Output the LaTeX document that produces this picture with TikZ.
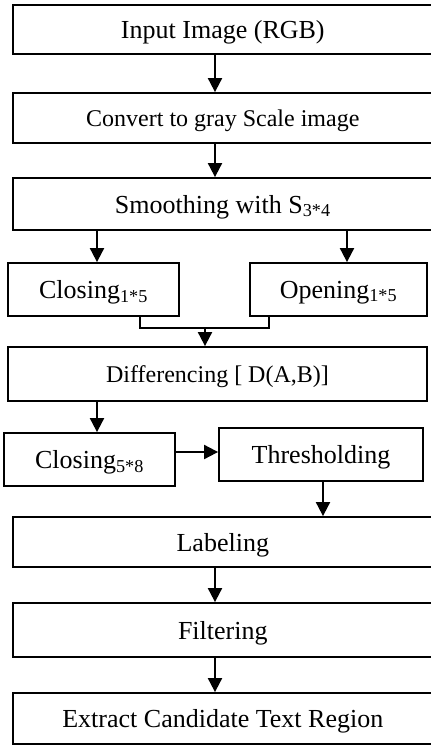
\documentclass[tikz,border=0pt]{standalone}
\usepackage{fontspec}
\setmainfont{Liberation Serif}
\usetikzlibrary{arrows.meta}
\begin{document}
\begin{tikzpicture}[x=1pt,y=-1pt,
  box/.style={draw=black,line width=1.8pt,inner sep=0pt,text depth=0pt,minimum width=#1,font=\fontsize{26}{30}\selectfont},
  smalltext/.style={font=\fontsize{24}{28}\selectfont},
  conn/.style={line width=1.9pt},
  arr/.style={conn,-{Triangle[width=14pt,length=14pt]}}]
\clip (0,0) rectangle (431,745);
\fill[white] (0,0) rectangle (431,745);
% main column boxes (right edge beyond the picture)
\node[box=420pt,minimum height=49pt] (in) at (222.8,29.5) {Input Image (RGB)};
\node[box=420pt,minimum height=50pt,smalltext] (gray) at (222.8,118) {Convert to gray Scale image};
\node[box=420pt,minimum height=52pt] (smooth) at (222.8,204) {Smoothing with S\textsubscript{3*4}};
\node[box=171pt,minimum height=53pt] (closeA) at (93.5,289.5) {Closing\textsubscript{1*5}};
\node[box=177pt,minimum height=53pt] (openA) at (338.5,289.5) {Opening\textsubscript{1*5}};
\node[box=419pt,minimum height=54pt,smalltext] (diff) at (217.5,374) {Differencing [ D(A,B)]};
\node[box=171pt,minimum height=53pt] (closeB) at (89.5,459.5) {Closing\textsubscript{5*8}};
\node[box=204pt,minimum height=53pt] (thresh) at (321,454.5) {Thresholding};
\node[box=420pt,minimum height=50pt] (label) at (222.8,542) {Labeling};
\node[box=420pt,minimum height=54pt] (filter) at (222.8,630) {Filtering};
\node[box=420pt,minimum height=51pt] (extract) at (222.8,718.5) {Extract Candidate Text Region};
% connector reference coordinates
\coordinate (xa) at (215,0);
\coordinate (xl) at (97,0);
\coordinate (xr) at (347,0);
\coordinate (xcl) at (140,0);
\coordinate (xop) at (269,0);
\coordinate (xm) at (205,0);
\coordinate (ym) at (0,328);
\coordinate (yt) at (0,452);
\coordinate (xt) at (323,0);
% connectors
\draw[arr] (in.south -| xa) -- (gray.north -| xa);
\draw[arr] (gray.south -| xa) -- (smooth.north -| xa);
\draw[arr] (smooth.south -| xl) -- (closeA.north -| xl);
\draw[arr] (smooth.south -| xr) -- (openA.north -| xr);
\draw[conn] (closeA.south -| xcl) -- (xcl |- ym) -- (xop |- ym) -- (openA.south -| xop);
\draw[arr] (xm |- ym) -- (diff.north -| xm);
\draw[arr] (diff.south -| xl) -- (closeB.north -| xl);
\draw[arr] (closeB.east |- yt) -- (thresh.west |- yt);
\draw[arr] (thresh.south -| xt) -- (label.north -| xt);
\draw[arr] (label.south -| xa) -- (filter.north -| xa);
\draw[arr] (filter.south -| xa) -- (extract.north -| xa);
\end{tikzpicture}
\end{document}
